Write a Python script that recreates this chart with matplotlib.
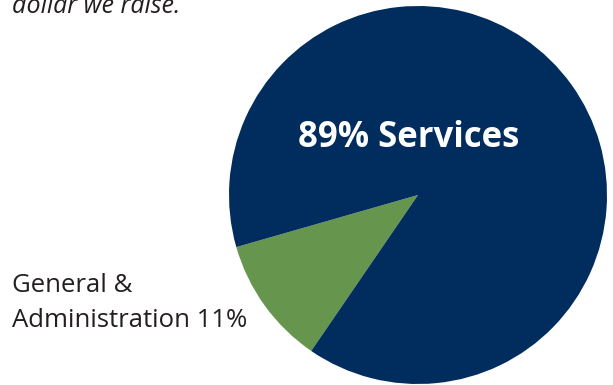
import matplotlib.pyplot as plt

labels = ["General & Administration", "Services"]
shares = [11, 89]
colors = ["#66964e", "#002d5d"]

W, H = 613, 385

fig = plt.figure(figsize=(W / 100, H / 100), dpi=100)
ax = fig.add_axes([0, 0, 1, 1])

# pie centred at pixel (418, 195) from top, radius ~189 px
ax.pie(shares, colors=colors, startangle=196, center=(418, H - 195), radius=189,
       wedgeprops=dict(linewidth=0), frame=True)
ax.set_xlim(0, W)
ax.set_ylim(0, H)
ax.set_aspect("equal")
ax.axis("off")

ax.text(409, H - 138, f"{shares[1]}% Services", color="white", fontsize=25,
        fontweight="bold", family="Open Sans", ha="center", va="center")
ax.text(12, H - 292, "General &", color="#231f20", fontsize=18.5,
        family="Open Sans", ha="left", va="baseline")
ax.text(12, H - 327, f"Administration {shares[0]}%", color="#231f20", fontsize=18.5,
        family="Open Sans", ha="left", va="baseline")
# caption line above the chart, cut off at the top edge as in the source
ax.text(12, H - 13, "dollar we raise.", color="#231f20", fontsize=18,
        family="Open Sans", style="italic", ha="left", va="baseline")

fig.savefig("out.png", dpi=100)
